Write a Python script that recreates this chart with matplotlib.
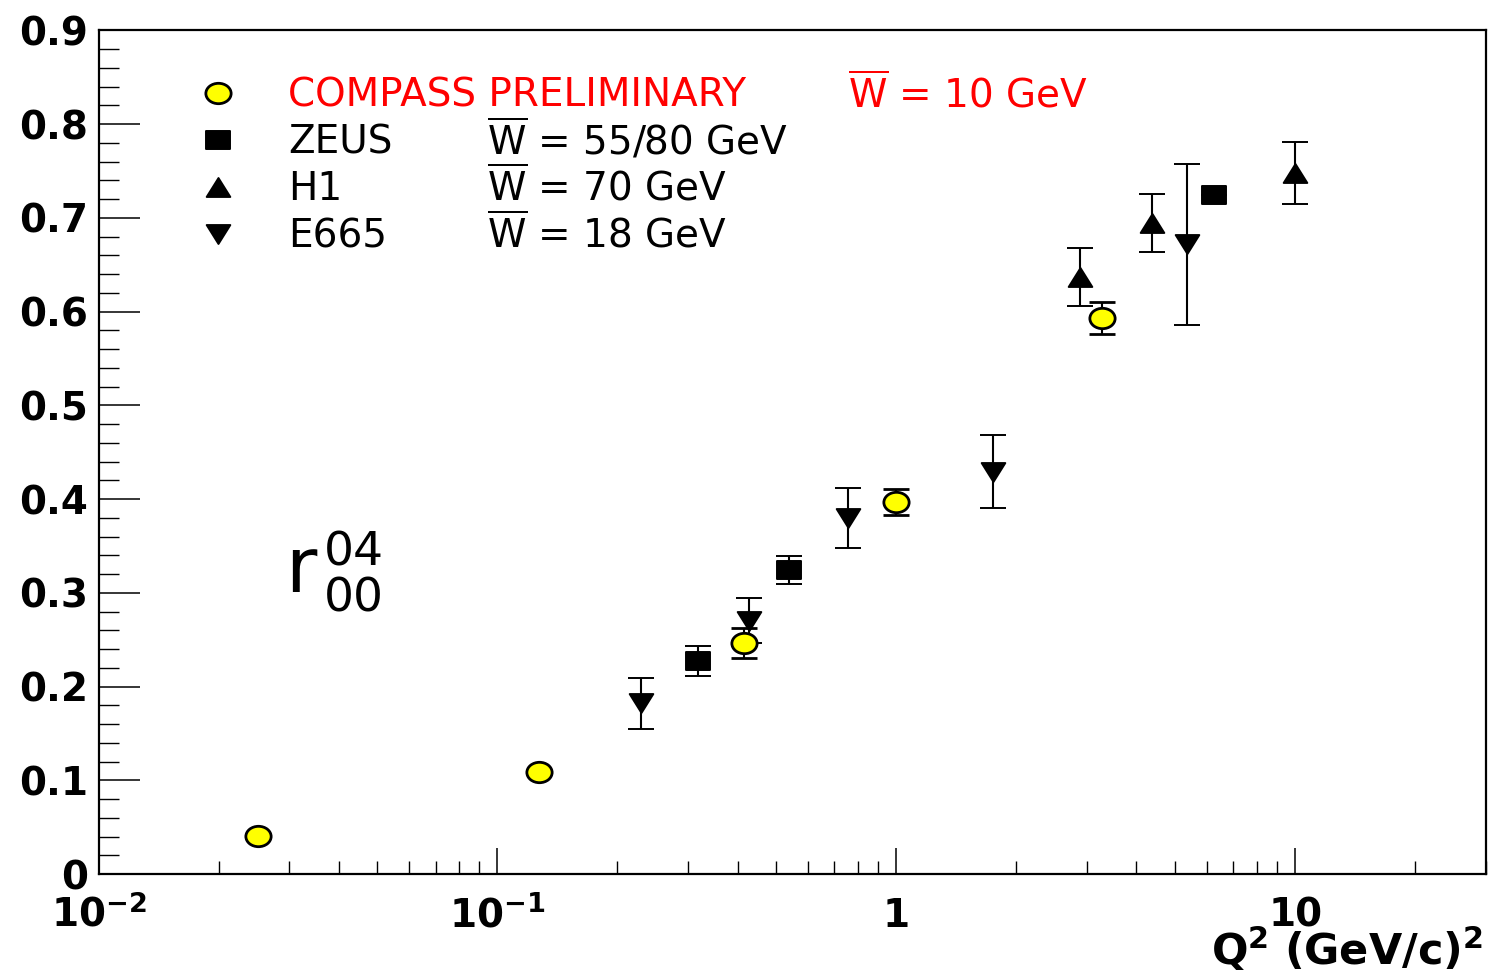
import matplotlib
matplotlib.use("Agg")
import matplotlib.pyplot as plt
from matplotlib.path import Path
from matplotlib.lines import Line2D
from matplotlib.ticker import MultipleLocator, NullFormatter, LogLocator

# values
compass_q2 = [0.0251, 0.127, 0.415, 1.0, 3.28]
compass_r = [0.041, 0.109, 0.247, 0.397, 0.593]
compass_err = [0.0, 0.0, 0.016, 0.014, 0.017]

zeus_q2 = [0.318, 0.538, 6.26]
zeus_r = [0.227, 0.324, 0.725]
zeus_err = [0.016, 0.015, 0.0]

h1_q2 = [2.89, 4.37, 10.0]
h1_r = [0.637, 0.695, 0.748]
h1_err = [0.031, 0.031, 0.033]

e665_q2 = [0.229, 0.428, 0.756, 1.75, 5.36]
e665_r = [0.182, 0.270, 0.380, 0.429, 0.672]
e665_err = [0.027, 0.024, 0.032, 0.039, 0.086]

legend_names = ["COMPASS PRELIMINARY", "ZEUS", "H1", "E665"]
legend_w = ["= 10 GeV", "= 55/80 GeV", "= 70 GeV", "= 18 GeV"]

x_ticks = [0.01, 0.1, 1, 10]
x_tick_labels = [r"$\mathbf{10^{-2}}$", r"$\mathbf{10^{-1}}$", "1", "10"]
y_ticks = [0.0, 0.1, 0.2, 0.3, 0.4, 0.5, 0.6, 0.7, 0.8, 0.9]
y_tick_labels = ["0", "0.1", "0.2", "0.3", "0.4", "0.5", "0.6", "0.7", "0.8", "0.9"]

plt.rcParams.update({
    "font.family": "DejaVu Sans",
    "font.size": 28,
    "mathtext.fontset": "dejavusans",
})

# ROOT-like markers (slightly wider than tall, like the reference)
circ = Path.unit_circle()
ellipse = Path(circ.vertices * [1.24, 1.0], circ.codes)
box = Path([(-1.35, -1), (1.35, -1), (1.35, 1), (-1.35, 1), (-1.35, -1)], closed=True)
tri_up = Path([(0, 0.5), (0.625, -0.5), (-0.625, -0.5), (0, 0.5)], closed=True)
tri_down = Path([(0, -0.5), (0.625, 0.5), (-0.625, 0.5), (0, -0.5)], closed=True)

styles = {
    "compass": dict(marker=ellipse, ms=18.2, mfc="#ffff00", mec="black", mew=2.0),
    "zeus": dict(marker=box, ms=17.8, mfc="black", mec="black", mew=1.4),
    "h1": dict(marker=tri_up, ms=17.0, mfc="black", mec="black", mew=1.4),
    "e665": dict(marker=tri_down, ms=17.0, mfc="black", mec="black", mew=1.4),
}
err_kw = dict(linestyle="none", ecolor="black", elinewidth=1.5, capsize=9.5, capthick=1.5)

fig = plt.figure(figsize=(14.93, 9.8), dpi=100)
ax = fig.add_axes([98.5 / 1493, (980 - 874) / 980, 1387 / 1493, 843.5 / 980])

ax.errorbar(zeus_q2, zeus_r, yerr=zeus_err, **styles["zeus"], **err_kw)
ax.errorbar(h1_q2, h1_r, yerr=h1_err, **styles["h1"], **err_kw)
ax.errorbar(e665_q2, e665_r, yerr=e665_err, **styles["e665"], **err_kw)
ax.errorbar(compass_q2, compass_r, yerr=compass_err, **styles["compass"], **err_kw)

ax.set_xscale("log")
ax.set_xlim(0.01, 30)
ax.set_ylim(0, 0.9)

ax.set_xticks(x_ticks, x_tick_labels)
ax.xaxis.set_minor_locator(LogLocator(base=10, subs=[2, 3, 4, 5, 6, 7, 8, 9]))
ax.xaxis.set_minor_formatter(NullFormatter())
ax.set_yticks(y_ticks, y_tick_labels)
ax.yaxis.set_minor_locator(MultipleLocator(0.02))

for lbl in ax.get_xticklabels() + ax.get_yticklabels():
    lbl.set_fontweight("bold")
for lbl in ax.get_xticklabels():
    lbl.set_verticalalignment("baseline")

ax.tick_params(axis="y", which="major", direction="in", length=29.5, width=1.1, pad=7.5)
ax.tick_params(axis="y", which="minor", direction="in", length=14.4, width=1.0)
ax.tick_params(axis="x", which="major", direction="in", length=18.5, width=1.1, pad=38)
ax.tick_params(axis="x", which="minor", direction="in", length=9.5, width=1.0)
for sp in ax.spines.values():
    sp.set_linewidth(1.6)

ax.text(0.998, -0.1080, r"$\mathbf{Q^{2}\ (GeV/c)^{2}}$", transform=ax.transAxes,
        ha="right", va="baseline", fontsize=31)

# r^04_00 label
ax.text(0.1345, 0.3344, "r", transform=ax.transAxes, fontsize=55, va="baseline")
ax.text(0.1626, 0.3661, "04", transform=ax.transAxes, fontsize=34, va="baseline")
ax.text(0.1626, 0.3107, "00", transform=ax.transAxes, fontsize=34, va="baseline")

# legend
handles = [Line2D([], [], linestyle="none", **styles[k]) for k in ["compass", "zeus", "h1", "e665"]]
leg = ax.legend(handles, legend_names, loc="upper left", bbox_to_anchor=(0.0638, 0.9455),
                frameon=False, borderpad=0, borderaxespad=0, handlelength=1.6,
                handletextpad=1.0, labelspacing=0.23, numpoints=1, fontsize=28)
leg.get_texts()[0].set_color("red")

wbar = r"$\overline{\mathrm{W}}$ "
ax.text(0.5404, 0.9093, wbar + legend_w[0], transform=ax.transAxes, color="red", va="baseline")
for txt, yb in zip(legend_w[1:], [0.8530, 0.7979, 0.7423]):
    ax.text(0.2801, yb, wbar + txt, transform=ax.transAxes, va="baseline")

fig.savefig("out.png", dpi=100)
